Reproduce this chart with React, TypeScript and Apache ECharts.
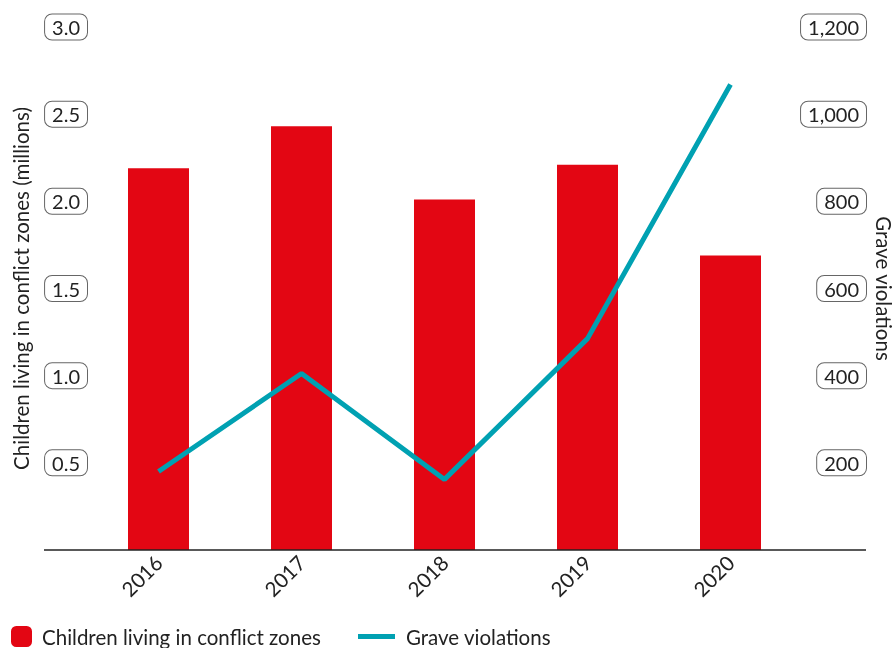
import React, { useEffect, useRef } from "react";
import * as echarts from "echarts";

const categories = ["2016", "2017", "2018", "2019", "2020"];
const childrenMillions = [2.19, 2.43, 2.01, 2.21, 1.69];
const graveViolations = [180, 405, 162, 485, 1068];
const barName = "Children living in conflict zones";
const lineName = "Grave violations";
const leftAxisName = "Children living in conflict zones (millions)";
const rightAxisName = "Grave violations";

const RED = "#E30613";
const TEAL = "#00A1B2";
const TEXT = "#222222";
const FONT = "Lato";
const FS = 20.5;

export default function App() {
  const ref = useRef<HTMLDivElement>(null);
  useEffect(() => {
    if (!ref.current) return;
    const chart = echarts.init(ref.current, null, { renderer: "svg" });
    const boxLabel = {
      color: TEXT,
      fontFamily: FONT,
      fontSize: 20,
      borderColor: "#666",
      borderWidth: 1,
      borderRadius: 7,
      padding: [3, 7, 2, 7],
      backgroundColor: "#fff",
    };
    chart.setOption({
      animation: false,
      textStyle: { fontFamily: FONT },
      grid: {
        left: 87,
        right: 91,
        top: 27,
        bottom: 98,
        containLabel: false,
        outerBoundsMode: "none",
      },
      legend: [
        {
          data: [barName],
          left: 11,
          top: 626,
          padding: 0,
          icon: "roundRect",
          itemWidth: 21,
          itemHeight: 21,
          textStyle: { color: TEXT, fontSize: FS, fontFamily: FONT, padding: [0, 0, 0, 5] },
        },
        {
          data: [lineName],
          left: 358,
          top: 626,
          padding: 0,
          icon: "rect",
          itemWidth: 37,
          itemHeight: 5,
          itemStyle: { color: TEAL },
          textStyle: { color: TEXT, fontSize: FS, fontFamily: FONT, padding: [0, 0, 0, 6] },
        },
      ],
      xAxis: {
        type: "category",
        data: categories,
        axisLine: { show: false },
        axisTick: { show: false },
        axisLabel: {
          rotate: 45,
          color: TEXT,
          fontSize: FS,
          fontFamily: FONT,
          margin: 9,
        },
      },
      yAxis: [
        {
          type: "value",
          min: 0,
          max: 3,
          interval: 0.5,
          position: "left",
          name: leftAxisName,
          nameLocation: "middle",
          nameGap: 56,
          nameTextStyle: { color: TEXT, fontSize: FS, fontFamily: FONT },
          axisLine: { show: false },
          axisTick: { show: false },
          splitLine: { show: false },
          axisLabel: {
            ...boxLabel,
            showMinLabel: false,
            margin: 0,
            formatter: (v: number) => v.toFixed(1),
          },
        },
        {
          type: "value",
          min: 0,
          max: 1200,
          interval: 200,
          position: "right",
          name: rightAxisName,
          nameLocation: "middle",
          nameRotate: -90,
          nameGap: 71,
          nameMoveOverlap: false,
          nameTextStyle: { color: TEXT, fontSize: FS, fontFamily: FONT },
          axisLine: { show: false },
          axisTick: { show: false },
          splitLine: { show: false },
          axisLabel: {
            ...boxLabel,
            showMinLabel: false,
            align: "right",
            margin: 64,
            formatter: (v: number) => v.toLocaleString("en-US"),
          },
        },
      ],
      series: [
        {
          name: barName,
          type: "bar",
          data: childrenMillions,
          yAxisIndex: 0,
          barWidth: 61,
          itemStyle: { color: RED },
        },
        {
          name: lineName,
          type: "line",
          data: graveViolations,
          yAxisIndex: 1,
          symbol: "none",
          lineStyle: { color: TEAL, width: 5 },
          itemStyle: { color: TEAL },
          z: 5,
        },
      ],
      graphic: [
        {
          type: "line",
          shape: { x1: 44, y1: 550, x2: 866, y2: 550 },
          style: { stroke: "#222", lineWidth: 1.5 },
          z: 10,
        },
      ],
    });
    return () => chart.dispose();
  }, []);
  return (
    <div
      ref={ref}
      style={{ position: "fixed", left: 0, top: 0, width: 893, height: 648 }}
    />
  );
}
